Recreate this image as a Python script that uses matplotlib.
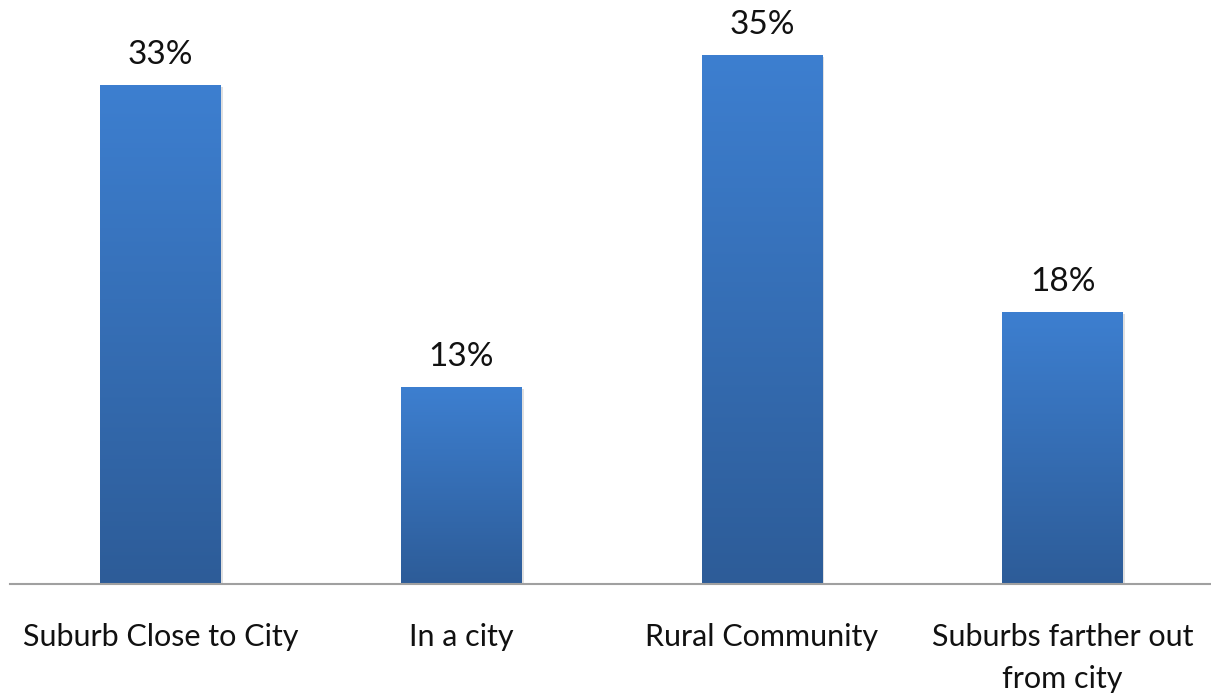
import numpy as np
import matplotlib.pyplot as plt
from matplotlib.colors import LinearSegmentedColormap

categories = ["Suburb Close to City", "In a city", "Rural Community",
              "Suburbs farther out\nfrom city"]
values = [33, 13, 35, 18]
labels = ["33%", "13%", "35%", "18%"]

plt.rcParams['font.family'] = ['Lato', 'DejaVu Sans']

fig = plt.figure(figsize=(12.11, 6.96), dpi=100)
ax = fig.add_axes([10 / 1211, 112 / 696, 1203 / 1211, 544 / 696])

x = np.arange(len(categories))
bars = ax.bar(x, values, width=0.4, color='none', edgecolor='none', zorder=2)

# vertical blue gradient inside each bar
grad = LinearSegmentedColormap.from_list('blue', ['#2d5c98', '#3d7fd0'])
g = np.linspace(0, 1, 256).reshape(-1, 1)
for b in bars:
    x0, w, h = b.get_x(), b.get_width(), b.get_height()
    # soft shadow on the right edge
    ax.bar(x0 + w / 2 + 0.008, h, width=w, bottom=-0.1, color='#000000',
           alpha=0.12, zorder=1)
    ax.imshow(g, cmap=grad, origin='lower', aspect='auto',
              extent=(x0, x0 + w, 0, h), zorder=3, interpolation='bicubic')

for xi, v, lab in zip(x, values, labels):
    ax.text(xi, v + 1.0, lab, ha='center', va='bottom', fontsize=24,
            color='#111111')

ax.set_xlim(-0.5, 3.5)
ax.set_ylim(0, 36)
ax.set_xticks(x)
ax.set_xticklabels(categories, fontsize=22, color='#111111', linespacing=1.6,
                   va='top')
ax.tick_params(axis='x', length=0, pad=28)
ax.set_yticks([])
for s in ['top', 'right', 'left']:
    ax.spines[s].set_visible(False)
ax.spines['bottom'].set_color('#a0a0a0')
ax.spines['bottom'].set_linewidth(1.5)
ax.spines['bottom'].set_zorder(4)

fig.savefig('out.png', dpi=100)
